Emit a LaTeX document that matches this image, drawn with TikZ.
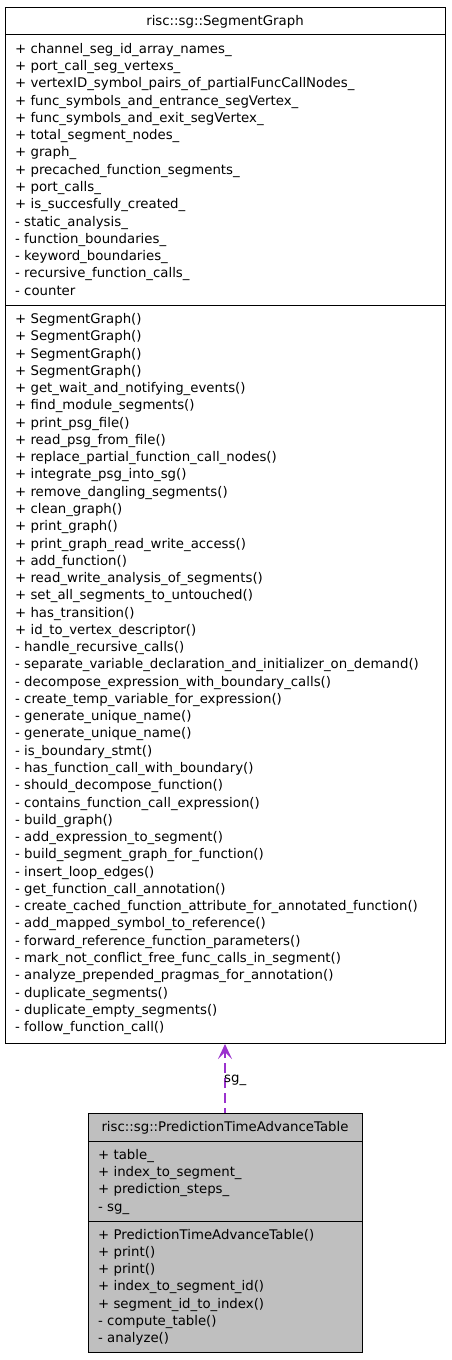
\documentclass[tikz,border=0pt]{standalone}
\usepackage{fontspec}
\setmainfont{DejaVu Sans}
\usetikzlibrary{arrows.meta}
\definecolor{dxpurple}{HTML}{9A32CD}
\definecolor{dxgrey}{HTML}{BFBFBF}
\tikzset{
  classbox/.style={draw=black, line width=1pt, inner sep=0pt, anchor=north west},
  sepline/.style={draw=black, line width=1pt},
  txt/.style={anchor=base west, inner sep=0pt, font=\fontsize{13.3pt}{16pt}\selectfont},
  ttl/.style={anchor=base, inner sep=0pt, font=\fontsize{13.3pt}{16pt}\selectfont},
  usage/.style={draw=dxpurple, line width=1.3pt, dash pattern=on 10pt off 5pt, dash phase=5pt,
    -{Stealth[length=15pt,width=14pt,inset=7pt,line width=1pt]}}
}
\begin{document}
\begin{tikzpicture}[x=1pt,y=-1pt]
\useasboundingbox (0,0) rectangle (451,1360);
% top class
\node[classbox, minimum width=440pt, minimum height=1036pt] (sg) at (5,7) {};
\node[ttl] (sgtitle) at (225,25) {risc::sg::SegmentGraph};
\draw[sepline] (sg.west |- 0,34) -- (sg.east |- 0,34);
\draw[sepline] (sg.west |- 0,305) -- (sg.east |- 0,305);
\foreach \t [count=\i from 0] in {
+ channel\_seg\_id\_array\_names\_,
+ port\_call\_seg\_vertexs\_,
+ vertexID\_symbol\_pairs\_of\_partialFuncCallNodes\_,
+ func\_symbols\_and\_entrance\_segVertex\_,
+ func\_symbols\_and\_exit\_segVertex\_,
+ total\_segment\_nodes\_,
+ graph\_,
+ precached\_function\_segments\_,
+ port\_calls\_,
+ is\_succesfully\_created\_,
- static\_analysis\_,
- function\_boundaries\_,
- keyword\_boundaries\_,
- recursive\_function\_calls\_,
- counter}
  \node[txt] (sga\i) at (15,{53.3+17.27*\i}) {\t};
\foreach \t [count=\i from 0] in {
+ SegmentGraph(),
+ SegmentGraph(),
+ SegmentGraph(),
+ SegmentGraph(),
+ get\_wait\_and\_notifying\_events(),
+ find\_module\_segments(),
+ print\_psg\_file(),
+ read\_psg\_from\_file(),
+ replace\_partial\_function\_call\_nodes(),
+ integrate\_psg\_into\_sg(),
+ remove\_dangling\_segments(),
+ clean\_graph(),
+ print\_graph(),
+ print\_graph\_read\_write\_access(),
+ add\_function(),
+ read\_write\_analysis\_of\_segments(),
+ set\_all\_segments\_to\_untouched(),
+ has\_transition(),
+ id\_to\_vertex\_descriptor(),
- handle\_recursive\_calls(),
- separate\_variable\_declaration\_and\_initializer\_on\_demand(),
- decompose\_expression\_with\_boundary\_calls(),
- create\_temp\_variable\_for\_expression(),
- generate\_unique\_name(),
- generate\_unique\_name(),
- is\_boundary\_stmt(),
- has\_function\_call\_with\_boundary(),
- should\_decompose\_function(),
- contains\_function\_call\_expression(),
- build\_graph(),
- add\_expression\_to\_segment(),
- build\_segment\_graph\_for\_function(),
- insert\_loop\_edges(),
- get\_function\_call\_annotation(),
- create\_cached\_function\_attribute\_for\_annotated\_function(),
- add\_mapped\_symbol\_to\_reference(),
- forward\_reference\_function\_parameters(),
- mark\_not\_conflict\_free\_func\_calls\_in\_segment(),
- analyze\_prepended\_pragmas\_for\_annotation(),
- duplicate\_segments(),
- duplicate\_empty\_segments(),
- follow\_function\_call()}
  \node[txt] (sgm\i) at (15,{323.5+17.27*\i}) {\t};
% bottom class
\node[classbox, fill=dxgrey, minimum width=274pt, minimum height=239pt] (pt) at (88,1113) {};
\node[ttl] (pttitle) at (225,1131.5) {risc::sg::PredictionTimeAdvanceTable};
\draw[sepline] (pt.west |- 0,1141.7) -- (pt.east |- 0,1141.7);
\draw[sepline] (pt.west |- 0,1221) -- (pt.east |- 0,1221);
\foreach \t [count=\i from 0] in {
+ table\_,
+ index\_to\_segment\_,
+ prediction\_steps\_,
- sg\_}
  \node[txt] (pta\i) at (98,{1159.3+17.27*\i}) {\t};
\foreach \t [count=\i from 0] in {
+ PredictionTimeAdvanceTable(),
+ print(),
+ print(),
+ index\_to\_segment\_id(),
+ segment\_id\_to\_index(),
- compute\_table(),
- analyze()}
  \node[txt] (ptm\i) at (98,{1239.1+17.27*\i}) {\t};
% usage relation
\draw[usage] (pt.north -| 225,0) -- (sg.south -| 225,0);
\node[txt] (lbl) at (224,1082.5) {sg\_};
\end{tikzpicture}
\end{document}
